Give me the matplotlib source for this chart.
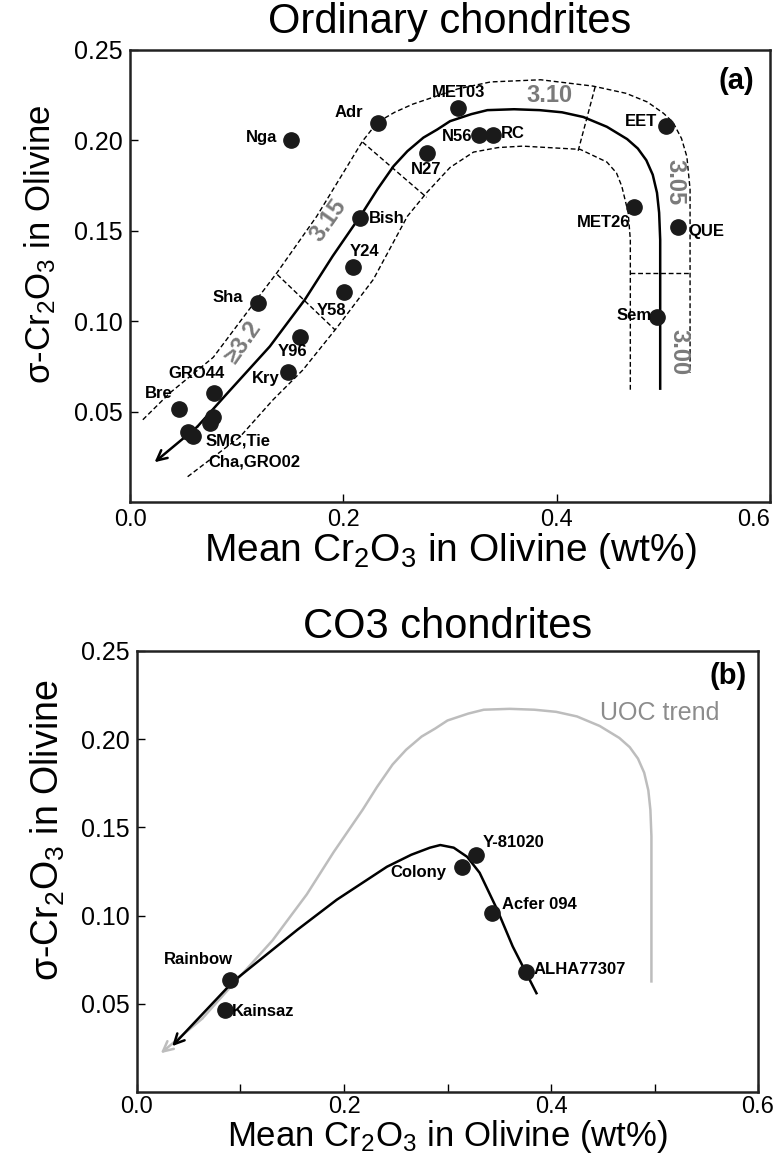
import matplotlib
matplotlib.use('Agg')
import matplotlib.pyplot as plt
from matplotlib import font_manager

plt.rcParams['font.family'] = ['Liberation Sans', 'DejaVu Sans']
plt.rcParams['mathtext.default'] = 'regular'

installed = {f.name for f in font_manager.fontManager.ttflist}
if 'Liberation Sans Narrow' in installed:
    XLAB_FAMILY, XLAB_SIZE = ['Liberation Sans Narrow', 'DejaVu Sans'], 33
else:
    XLAB_FAMILY, XLAB_SIZE = ['Liberation Sans', 'DejaVu Sans'], 28

# ---- data ----
# (a) ordinary chondrites
oc_names = ['Nga', 'Adr', 'MET03', 'N56', 'RC', 'N27', 'Bish', 'Y24', 'Y58', 'Sha',
            'Y96', 'Kry', 'GRO44', 'Bre', 'SMC', 'Tie', 'Cha', 'GRO02',
            'EET', 'MET26', 'QUE', 'Sem']
oc_mean = [0.151, 0.232, 0.307, 0.327, 0.340, 0.278, 0.216, 0.209, 0.201, 0.120,
           0.159, 0.148, 0.079, 0.046, 0.078, 0.075, 0.054, 0.059,
           0.502, 0.472, 0.514, 0.494]
oc_sigma = [0.200, 0.2095, 0.218, 0.203, 0.203, 0.193, 0.157, 0.130, 0.116, 0.110,
            0.0915, 0.072, 0.0604, 0.0516, 0.047, 0.0438, 0.0388, 0.0366,
            0.208, 0.163, 0.152, 0.1025]

# UOC trend line (first point = arrow tip)
trend_x = [0.023, 0.063, 0.091, 0.131, 0.164, 0.190, 0.218, 0.232, 0.247, 0.260,
           0.275, 0.288, 0.300, 0.320, 0.335, 0.360, 0.384, 0.405, 0.425, 0.447,
           0.466, 0.476, 0.484, 0.490, 0.494, 0.496, 0.497, 0.497]
trend_y = [0.022, 0.0416, 0.060, 0.086, 0.112, 0.136, 0.160, 0.173, 0.1857, 0.194,
           0.2015, 0.206, 0.2106, 0.2145, 0.2167, 0.2172, 0.2167, 0.2155, 0.2129, 0.2075,
           0.2007, 0.1955, 0.189, 0.181, 0.171, 0.160, 0.145, 0.062]

# dashed envelope of the trend
outer_x = [0.012, 0.0375, 0.078, 0.120, 0.138, 0.175, 0.205, 0.218, 0.232, 0.248,
           0.265, 0.307, 0.338, 0.385, 0.434, 0.465, 0.485, 0.500, 0.509, 0.517,
           0.522, 0.525, 0.525]
outer_y = [0.0455, 0.0604, 0.080, 0.113, 0.127, 0.158, 0.187, 0.1996, 0.210, 0.2155,
           0.220, 0.2284, 0.2323, 0.2335, 0.230, 0.226, 0.2212, 0.215, 0.210, 0.201,
           0.191, 0.173, 0.0715]
inner_x = [0.054, 0.103, 0.134, 0.162, 0.194, 0.228, 0.260, 0.278, 0.300, 0.322,
           0.345, 0.368, 0.422, 0.447, 0.456, 0.461, 0.467, 0.469, 0.469]
inner_y = [0.014, 0.036, 0.0565, 0.073, 0.0965, 0.123, 0.158, 0.171, 0.185, 0.1935,
           0.196, 0.1968, 0.195, 0.188, 0.182, 0.1746, 0.160, 0.145, 0.062]

# dividers between petrologic subtypes: (x0, x1), (y0, y1)
div_x = [(0.138, 0.192), (0.218, 0.278), (0.436, 0.420), (0.469, 0.525)]
div_y = [(0.1258, 0.0953), (0.199, 0.1685), (0.2295, 0.194), (0.1264, 0.1264)]

subtype_text = ['3.10', '3.15', '\u22653.2', '3.05', '3.00']
subtype_x = [0.393, 0.186, 0.106, 0.511, 0.515]
subtype_y = [0.225, 0.156, 0.088, 0.177, 0.083]

# (b) CO3 chondrites
co_names = ['Rainbow', 'Kainsaz', 'Colony', 'Y-81020', 'Acfer 094', 'ALHA77307']
co_mean = [0.090, 0.085, 0.314, 0.3275, 0.343, 0.376]
co_sigma = [0.0633, 0.0463, 0.1277, 0.1345, 0.1017, 0.0678]

co_trend_x = [0.034, 0.093, 0.155, 0.193, 0.2415, 0.265, 0.283, 0.293, 0.306, 0.319,
              0.331, 0.348, 0.363, 0.3865]
co_trend_y = [0.026, 0.0627, 0.092, 0.109, 0.1277, 0.1345, 0.1385, 0.140, 0.1385, 0.1333,
              0.1243, 0.1034, 0.0825, 0.0554]

# ---- label layout: name -> (text, offset in points, ha) ----
oc_labels = {
    'Nga': ('Nga', (-10, 2), 'right'),
    'Adr': ('Adr', (-10, 8), 'right'),
    'MET03': ('MET03', (1, 11), 'center'),
    'N56': ('N56', (-5, -1), 'right'),
    'RC': ('RC', (6, 1), 'left'),
    'N27': ('N27', (0, -12), 'center'),
    'Bish': ('Bish', (6, 0), 'left'),
    'Y24': ('Y24', (-2, 11), 'left'),
    'Y58': ('Y58', (-9, -13), 'center'),
    'Sha': ('Sha', (-11, 4), 'right'),
    'Y96': ('Y96', (-5, -11), 'center'),
    'Kry': ('Kry', (-6, -5), 'right'),
    'GRO44': ('GRO44', (-13, 14), 'center'),
    'Bre': ('Bre', (-15, 11), 'center'),
    'SMC': ('SMC,Tie', (18, -17), 'center'),
    'GRO02': ('Cha,GRO02', (44, -19), 'center'),
    'EET': ('EET', (-6, 3), 'right'),
    'MET26': ('MET26', (-2, -11), 'right'),
    'QUE': ('QUE', (7, -3), 'left'),
    'Sem': ('Sem', (-4, 1), 'right'),
}
co_labels = {
    'Rainbow': ((-23, 15), 'center'),
    'Kainsaz': ((5, -1), 'left'),
    'Colony': ((-11, -4), 'right'),
    'Y-81020': ((5, 9), 'left'),
    'Acfer 094': ((7, 6), 'left'),
    'ALHA77307': ((5, 2), 'left'),
}

DOT = '#1a1a1a'
GREY_TXT = '#7a7a7a'


def style_axes(ax, ylab_size, xlab_size, xtick_pad, ylab_y):
    ax.set_xlim(0, 0.6)
    ax.set_ylim(0, 0.25)
    for s in ax.spines.values():
        s.set_linewidth(1.8)
        s.set_color('#222222')
    ax.tick_params(direction='in', length=6, width=1.0, pad=5,
                   top=False, right=False)
    ax.tick_params(axis='x', labelsize=17, pad=xtick_pad)
    ax.tick_params(axis='y', labelsize=18)
    ax.set_xticks([0.0, 0.2, 0.4, 0.6])
    ax.set_xticklabels(['0.0', '0.2', '0.4', '0.6'])
    ax.set_yticks([0.05, 0.10, 0.15, 0.20, 0.25])
    ax.set_yticklabels(['0.05', '0.10', '0.15', '0.20', '0.25'])
    ax.set_xlabel('Mean Cr$_2$O$_3$ in Olivine (wt%)', fontsize=xlab_size,
                  family=XLAB_FAMILY, labelpad=0)
    ax.set_ylabel('\u03c3-Cr$_2$O$_3$ in Olivine', fontsize=ylab_size)
    ax.yaxis.set_label_coords(-0.113, ylab_y)


def draw_trend(ax, xs, ys, color, lw):
    ax.plot(xs[1:], ys[1:], color=color, lw=lw, solid_capstyle='butt',
            solid_joinstyle='round')
    ax.annotate('', xy=(xs[0], ys[0]), xytext=(xs[1], ys[1]),
                arrowprops=dict(arrowstyle='->', color=color, lw=lw,
                                mutation_scale=18, shrinkA=0, shrinkB=0))


fig = plt.figure(figsize=(7.81, 11.61), dpi=100)

# ---- panel (a) ----
ax1 = fig.add_axes([0.1665, 0.5676, 0.8195, 0.3894])
style_axes(ax1, 25, XLAB_SIZE, 5, 0.569)
ax1.get_xticklabels()[-1].set_ha('right')
ax1.set_title('Ordinary chondrites', fontsize=30, pad=12)

dash = (0, (3.5, 2))
ax1.plot(outer_x, outer_y, color='black', lw=1.0, linestyle=dash)
ax1.plot(inner_x, inner_y, color='black', lw=1.0, linestyle=dash)
for dx, dy in zip(div_x, div_y):
    ax1.plot(dx, dy, color='black', lw=1.0, linestyle=dash)
draw_trend(ax1, trend_x, trend_y, 'black', 1.8)

rots = [0, 55, 55, -90, -90]
for t, x, y, r in zip(subtype_text, subtype_x, subtype_y, rots):
    ax1.text(x, y, t, fontsize=17, fontweight='bold', color=GREY_TXT,
             ha='center', va='center', rotation=r, rotation_mode='anchor')

ax1.plot(oc_mean, oc_sigma, 'o', color=DOT, markersize=11, zorder=5)
for name, x, y in zip(oc_names, oc_mean, oc_sigma):
    if name in oc_labels:
        txt, off, ha = oc_labels[name]
        ax1.annotate(txt, (x, y), xytext=off, textcoords='offset points',
                     ha=ha, va='center', fontsize=12, fontweight='bold', zorder=6)
ax1.text(0.948, 0.931, '(a)', transform=ax1.transAxes, fontsize=21,
         fontweight='bold', ha='center', va='center')

# ---- panel (b) ----
ax2 = fig.add_axes([0.1754, 0.0594, 0.7952, 0.3799])
style_axes(ax2, 27, XLAB_SIZE - 3, 3, 0.594)
ax2.set_xticks([0.1, 0.3, 0.5], minor=True)
ax2.tick_params(which='minor', direction='in', length=6, width=1.0)
ax2.set_title('CO3 chondrites', fontsize=30, pad=9)

draw_trend(ax2, trend_x, trend_y, '#bdbdbd', 1.8)
ax2.text(0.505, 0.215, 'UOC trend', fontsize=18, color='#8c8c8c',
         ha='center', va='center')
draw_trend(ax2, co_trend_x, co_trend_y, 'black', 1.8)

ax2.plot(co_mean, co_sigma, 'o', color=DOT, markersize=11, zorder=5)
for name, x, y in zip(co_names, co_mean, co_sigma):
    off, ha = co_labels[name]
    ax2.annotate(name, (x, y), xytext=off, textcoords='offset points',
                 ha=ha, va='center', fontsize=12, fontweight='bold', zorder=6)
ax2.text(0.952, 0.943, '(b)', transform=ax2.transAxes, fontsize=21,
         fontweight='bold', ha='center', va='center')

fig.savefig('out.png', dpi=100)
